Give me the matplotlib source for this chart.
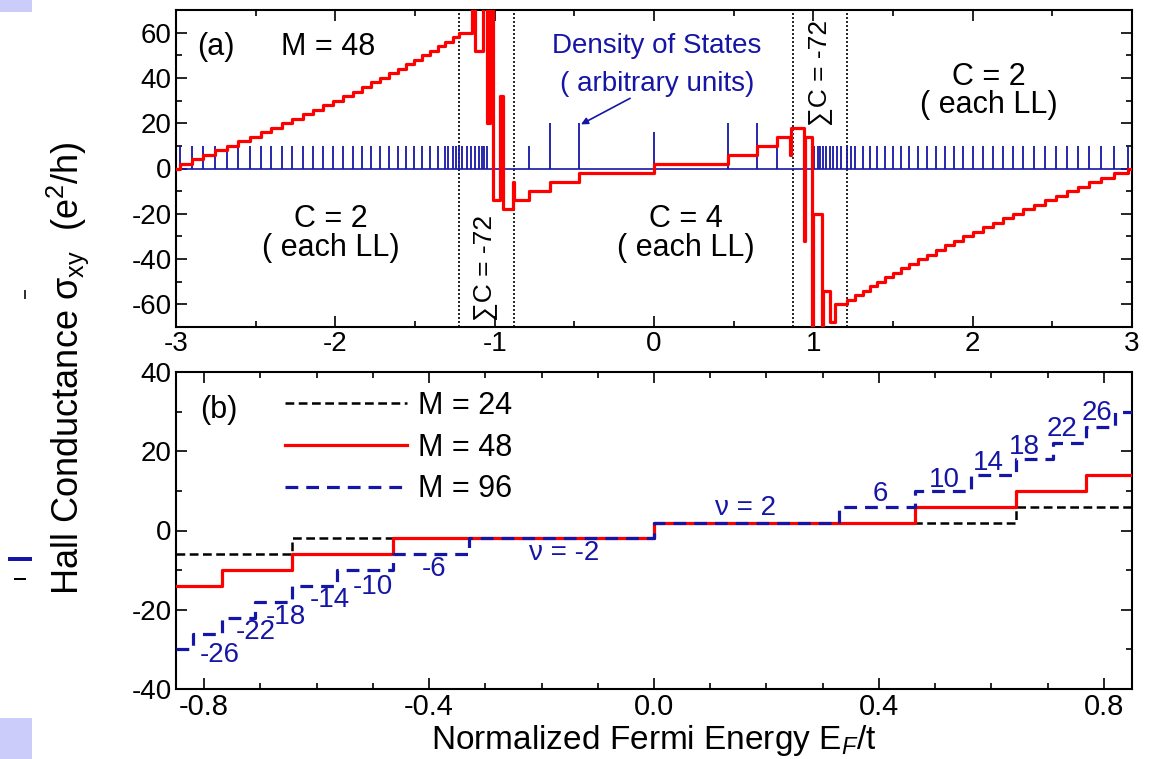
import matplotlib

matplotlib.use("Agg")
import matplotlib.pyplot as plt
from matplotlib.patches import Rectangle
from matplotlib.ticker import MultipleLocator

plt.rcParams.update({
    "font.family": ["Liberation Sans", "DejaVu Sans"],
    "axes.unicode_minus": False,
    "mathtext.fontset": "custom",
    "mathtext.rm": "Liberation Sans",
    "mathtext.it": "Liberation Sans:italic",
})

RED = "#FF0000"
NAVY = "#1616A6"
LAVENDER = "#CCCCFA"

# ---- panel (a): M = 48, Hall conductance over the whole band ----
# Landau levels below the van Hove region (C = 2 each) and plateau after each
A_LEFT_E = [-2.975, -2.902, -2.829, -2.755, -2.682, -2.609, -2.536, -2.469, -2.404, -2.337,
            -2.274, -2.205, -2.142, -2.080, -2.013, -1.950, -1.891, -1.830, -1.776, -1.720,
            -1.663, -1.609, -1.557, -1.504, -1.454, -1.406, -1.358, -1.312, -1.264, -1.222]
A_LEFT_S = [2, 4, 6, 8, 10, 12, 14, 16, 18, 20, 22, 24, 26, 28, 30,
            32, 34, 36, 38, 40, 42, 44, 46, 48, 50, 52, 54, 56, 58, 60]
# around E = -1 (sum C = -72)
A_VHL_E = [-1.144, -1.123, -1.071, -1.050, -1.032, -1.008, -0.967, -0.946, -0.883, -0.876]
A_VHL_S = [90, 52, 90, 20, 90, -14, 32, -18, -6, -14]
# Dirac region (C = 4 each)
A_MID_E = [-0.785, -0.655, -0.468, 0.0, 0.466, 0.646, 0.772]
A_MID_S = [-10, -6, -2, 2, 6, 10, 14]
# around E = +1
A_VHR_E = [0.853, 0.862, 0.943, 0.948, 0.990, 1.000, 1.055, 1.063, 1.105, 1.136]
A_VHR_S = [6, 18, -32, 14, -90, -20, -90, -54, -68, -60]
A_RIGHT_E = [1.209, 1.262, 1.310, 1.356, 1.402, 1.450, 1.498, 1.550, 1.603, 1.659,
             1.712, 1.770, 1.827, 1.883, 1.942, 2.000, 2.063, 2.126, 2.188, 2.255,
             2.318, 2.387, 2.454, 2.523, 2.590, 2.663, 2.732, 2.806, 2.889, 2.977]
A_RIGHT_S = [-58, -56, -54, -52, -50, -48, -46, -44, -42, -40, -38, -36, -34, -32, -30,
             -28, -26, -24, -22, -20, -18, -16, -14, -12, -10, -8, -6, -4, -2, 0]

# density of states spikes (arbitrary units)
DOS_COMB_H = 10
DOS_VHL_E = [-1.290, -1.240, -1.207, -1.176, -1.149, -1.123, -1.100, -1.082, -1.065, -1.050]
DOS_VHR_E = [1.006, 1.027, 1.042, 1.063, 1.080, 1.105, 1.125, 1.146, 1.174, 1.236]
DOS_MID_E = [-0.785, -0.655, -0.468, 0.0, 0.466, 0.646, 0.772]
DOS_MID_H = [10, 20, 20, 16, 20, 20, 10]
REGION_EDGES = [-1.222, -0.880, 0.870, 1.210]

# ---- panel (b): zoom on the Dirac region for three flux values ----
B_M24_E = [-0.644, 0.0, 0.644]
B_M24_S = [-6, -2, 2, 6]
B_M48_E = [-0.768, -0.644, -0.464, 0.0, 0.464, 0.644, 0.768]
B_M48_S = [-14, -10, -6, -2, 2, 6, 10, 14]
B_M96_E = [-0.820, -0.768, -0.709, -0.644, -0.564, -0.464, -0.329, 0.0,
           0.329, 0.464, 0.564, 0.644, 0.709, 0.768, 0.820]
B_M96_S = [-30, -26, -22, -18, -14, -10, -6, -2, 2, 6, 10, 14, 18, 22, 26, 30]
NU_TEXT = ["-26", "-22", "-18", "-14", "-10", "-6", "\u03bd = -2",
           "\u03bd = 2", "6", "10", "14", "18", "22", "26"]
NU_X = [-0.772, -0.709, -0.654, -0.576, -0.500, -0.391, -0.160,
        0.162, 0.402, 0.516, 0.594, 0.658, 0.725, 0.788]
NU_Y = [-31.4, -25.6, -21.8, -17.5, -14.2, -9.6, -5.8,
        5.6, 9.1, 12.7, 17.0, 21.0, 25.6, 29.6]


def steps(x0, x1, y0, energies, levels):
    xs = [x0] + list(energies) + [x1]
    ys = [y0] + list(levels) + [levels[-1]]
    return xs, ys


def style_axes(ax):
    for s in ax.spines.values():
        s.set_linewidth(1.5)
    ax.tick_params(which="both", direction="in", top=True, right=True, width=1.2)
    ax.tick_params(which="major", length=8)
    ax.tick_params(which="minor", length=4)


W, H = 1161, 759
fig = plt.figure(figsize=(W / 100, H / 100), dpi=100)
ax_a = fig.add_axes([176 / W, 1 - 327 / H, 956 / W, 317 / H])
ax_b = fig.add_axes([176 / W, 1 - 689 / H, 956 / W, 317 / H])

# ---------------- (a) ----------------
comb = A_LEFT_E + DOS_VHL_E + DOS_VHR_E + A_RIGHT_E
ax_a.axhline(0, color=NAVY, lw=1.2, zorder=2)
ax_a.vlines(comb, 0, DOS_COMB_H, color=NAVY, lw=1.3, zorder=2)
ax_a.vlines(DOS_MID_E, 0, DOS_MID_H, color=NAVY, lw=1.3, zorder=2)
for e in REGION_EDGES:
    ax_a.axvline(e, color="black", ls=(0, (1.2, 1.2)), lw=1.2, zorder=1)

xs, ys = steps(-3, 3, 0,
               A_LEFT_E + A_VHL_E + A_MID_E + A_VHR_E + A_RIGHT_E,
               A_LEFT_S + A_VHL_S + A_MID_S + A_VHR_S + A_RIGHT_S)
ax_a.step(xs, ys, where="post", color=RED, lw=2.3, zorder=3)

ax_a.set_xlim(-3, 3)
ax_a.set_ylim(-70, 70)
ax_a.xaxis.set_major_locator(MultipleLocator(1))
ax_a.xaxis.set_minor_locator(MultipleLocator(0.5))
ax_a.yaxis.set_major_locator(MultipleLocator(20))
ax_a.yaxis.set_minor_locator(MultipleLocator(10))
style_axes(ax_a)
ax_a.tick_params(axis="both", labelsize=20, pad=3)

ax_a.text(-2.87, 53.5, "(a)", fontsize=22, ha="left", va="center")
ax_a.text(-2.34, 53.5, "M = 48", fontsize=22, ha="left", va="center")
ax_a.text(0.02, 54, "Density of States", fontsize=20, color=NAVY,
          ha="center", va="center")
ax_a.text(0.02, 37.5, "( arbitrary units)", fontsize=20, color=NAVY,
          ha="center", va="center")
ax_a.annotate("", xy=(-0.458, 19.5), xytext=(-0.15, 31),
              arrowprops=dict(arrowstyle="-|>", color=NAVY, lw=1.2,
                              mutation_scale=10, shrinkA=0, shrinkB=0))
for x, y, t in [(-2.03, -28.7, "C = 2\n( each LL)"),
                (0.20, -28.7, "C = 4\n( each LL)"),
                (2.10, 34.3, "C = 2\n( each LL)")]:
    ax_a.text(x, y, t, fontsize=22, ha="center", va="center", linespacing=0.92)
ax_a.text(-1.06, -44, "\u2211C = -72", fontsize=19, rotation=90,
          ha="center", va="center")
ax_a.text(1.04, 42, "\u2211C = -72", fontsize=19, rotation=90,
          ha="center", va="center")

# ---------------- (b) ----------------
xs, ys = steps(-0.85, 0.85, B_M24_S[0], B_M24_E, B_M24_S[1:])
ax_b.step(xs, ys, where="post", color="black", lw=1.8, ls=(0, (3.5, 1.8)),
          label="M = 24", zorder=2)
xs, ys = steps(-0.85, 0.85, B_M48_S[0], B_M48_E, B_M48_S[1:])
ax_b.step(xs, ys, where="post", color=RED, lw=2.3, label="M = 48", zorder=3)
xs, ys = steps(-0.85, 0.85, B_M96_S[0], B_M96_E, B_M96_S[1:])
ax_b.step(xs, ys, where="post", color=NAVY, lw=2.3, ls=(0, (4, 2.5)),
          label="M = 96", zorder=4)

for t, x, y in zip(NU_TEXT, NU_X, NU_Y):
    ax_b.text(x, y, t, fontsize=20, color=NAVY, ha="center", va="center")

ax_b.set_xlim(-0.85, 0.85)
ax_b.set_ylim(-40, 40)
ax_b.xaxis.set_major_locator(MultipleLocator(0.4))
ax_b.xaxis.set_minor_locator(MultipleLocator(0.1))
ax_b.yaxis.set_major_locator(MultipleLocator(20))
ax_b.yaxis.set_minor_locator(MultipleLocator(10))
ax_b.xaxis.set_major_formatter(lambda v, p: f"{v:.1f}")
style_axes(ax_b)
ax_b.tick_params(axis="y", labelsize=20, pad=3)
ax_b.tick_params(axis="x", labelsize=21, pad=3)

ax_b.text(0.025, 0.88, "(b)", transform=ax_b.transAxes, fontsize=22,
          ha="left", va="center")
ax_b.legend(loc="upper left", bbox_to_anchor=(0.114, 0.94), frameon=False,
            fontsize=22, handlelength=4.0, handletextpad=0.35,
            labelspacing=0.38, borderpad=0, borderaxespad=0)

ax_b.set_xlabel("Normalized Fermi Energy E$_F$/t", fontsize=24, labelpad=1)
fig.text(0.058, 0.515, r"Hall Conductance σ$_{\rm xy}$  (e$^{\rm 2}$/h)", fontsize=26,
         rotation=90, ha="center", va="center")

# slide remnants on the left edge
for x, y, w, h, c in [(0, 0, 32, 12, LAVENDER), (0, 718, 32, 41, LAVENDER),
                      (8, 557, 24, 4, NAVY), (14, 578, 12, 2, "black"),
                      (24, 290, 2, 9, "#333333")]:
    fig.add_artist(Rectangle((x / W, 1 - (y + h) / H), w / W, h / H,
                             transform=fig.transFigure, color=c, lw=0))

fig.savefig("out.png", dpi=100)
